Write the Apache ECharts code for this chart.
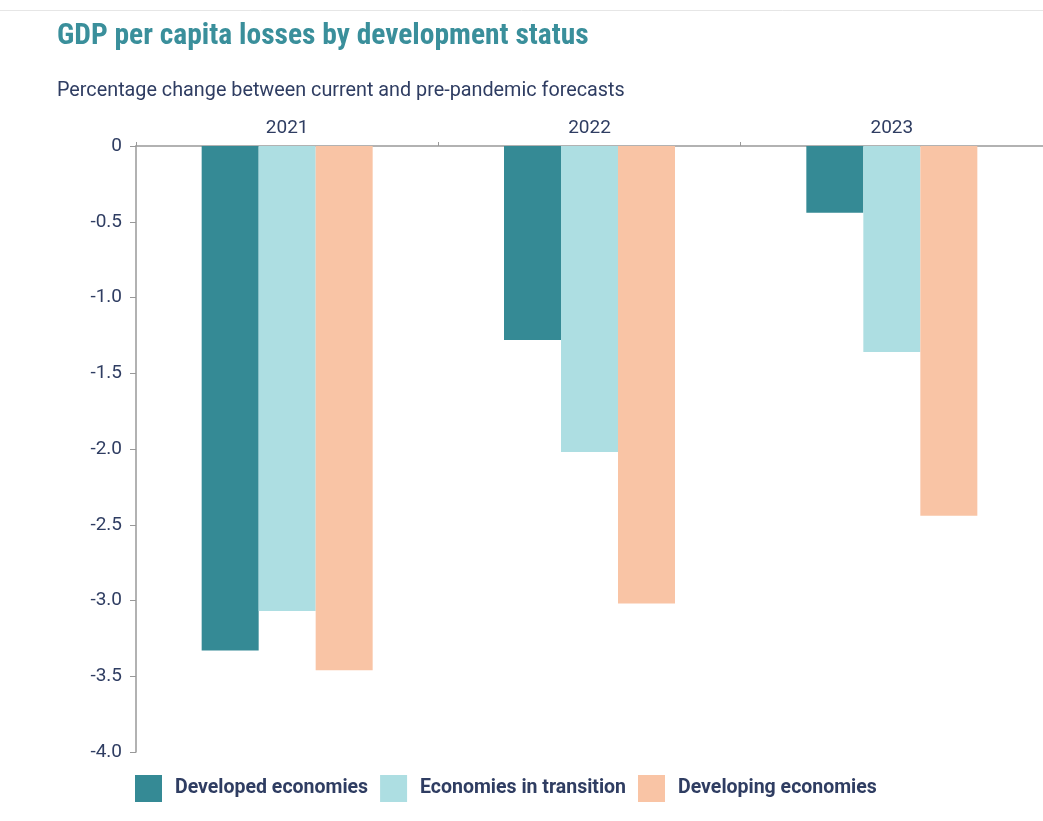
<!DOCTYPE html>
<html>
<head>
<meta charset="utf-8">
<script src="https://cdn.jsdelivr.net/npm/echarts@6/dist/echarts.min.js"></script>
<style>
  html, body { margin: 0; padding: 0; background: #fff; }
  #main { width: 1043px; height: 821px; }
</style>
</head>
<body>
<div id="main"></div>
<script>
var years = ['2021', '2022', '2023'];
var developed = [-3.33, -1.28, -0.44];
var transition = [-3.07, -2.02, -1.36];
var developing = [-3.46, -3.02, -2.44];

var condensed = '"Roboto Condensed", "Liberation Sans Narrow", sans-serif';
var font = 'Roboto, "Noto Sans", sans-serif';
var navy = '#2f3d62';

var myChart = echarts.init(document.getElementById('main'));
var option = {
	textStyle: { fontFamily: font },
	// thin frame line at the top
	graphic: [{
		type: 'line',
		shape: { x1: 0, y1: 10.5, x2: 1043, y2: 10.5 },
		style: { stroke: '#e6e6e6', lineWidth: 1 }
	}],
	title: {
		text: 'GDP per capita losses by development status',
		subtext: 'Percentage change between current and pre-pandemic forecasts',
		left: 52,
		top: 17,
		itemGap: 29,
		textStyle: { color: '#3a8f9b', fontSize: 29.5, fontWeight: 'bold', fontFamily: condensed },
		subtextStyle: { color: navy, fontSize: 19.8, fontFamily: font }
	},
	legend: {
		left: 135,
		top: 775,
		padding: 0,
		itemWidth: 27,
		itemHeight: 27,
		itemGap: 12,
		icon: 'rect',
		textStyle: { color: navy, fontSize: 19.5, fontWeight: 'bold', fontFamily: font, padding: [0, 0, 0, 8] }
	},
	grid: { left: 136, right: 0, top: 146, bottom: 69 },
	xAxis: {
		type: 'category',
		position: 'top',
		data: years,
		axisLine: { lineStyle: { color: '#999', width: 1.5 } },
		axisTick: { show: true, length: 4, lineStyle: { color: '#999' } },
		axisLabel: { color: navy, fontSize: 19, margin: 8, fontFamily: font }
	},
	yAxis: {
		type: 'value',
		min: -4,
		max: 0,
		interval: 0.5,
		axisLine: { show: true, lineStyle: { color: '#999', width: 1.5 } },
		axisTick: { show: true, length: 6, lineStyle: { color: '#999' } },
		splitLine: { show: false },
		axisLabel: {
			color: navy,
			fontSize: 19,
			margin: 14,
			fontFamily: font,
			formatter: function (v) { return v === 0 ? '0' : v.toFixed(1); }
		}
	},
	series: [
		{ name: 'Developed economies', type: 'bar', data: developed, barWidth: 57, barGap: '0%', itemStyle: { color: '#358a95' } },
		{ name: 'Economies in transition', type: 'bar', data: transition, barWidth: 57, barGap: '0%', itemStyle: { color: '#addee2' } },
		{ name: 'Developing economies', type: 'bar', data: developing, barWidth: 57, barGap: '0%', itemStyle: { color: '#f9c4a5' } }
	]
};
myChart.setOption(option);
</script>
</body>
</html>
